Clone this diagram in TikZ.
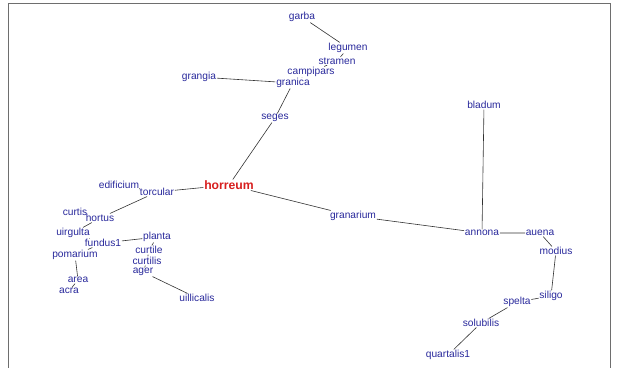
\documentclass[tikz,border=0pt]{standalone}
\usepackage{fontspec}
\setmainfont{Liberation Sans}
\definecolor{lbl}{RGB}{40,40,155}
\definecolor{hub}{RGB}{215,30,30}
\definecolor{edge}{RGB}{50,50,50}
\definecolor{framec}{RGB}{110,110,110}
\begin{document}
\begin{tikzpicture}[x=1pt,y=-1pt,
  w/.style={text=lbl,font=\fontsize{10.2}{11}\selectfont,inner sep=0.6pt},
  hubnode/.style={text=hub,font=\fontsize{12.2}{13}\selectfont\bfseries,inner sep=0.8pt},
  link/.style={draw=edge,line width=0.6pt}]
\useasboundingbox (0,0) rectangle (617,367);
\draw[framec,line width=1.8pt] (8.5,3.5) rectangle (610.5,380);
% nodes
\node[w] (garba) at (302,17) {garba};
\node[w] (legumen) at (348,48) {legumen};
\node[w] (stramen) at (337,61) {stramen};
\node[w] (campipars) at (311,72) {campipars};
\node[w] (grangia) at (199,77) {grangia};
\node[w] (granica) at (293,83) {granica};
\node[w] (seges) at (275,118) {seges};
\node[w] (bladum) at (484,105) {bladum};
\node[hubnode] (horreum) at (229,185) {horreum};
\node[w] (edificium) at (119,185) {edificium};
\node[w] (torcular) at (157,192) {torcular};
\node[w] (curtis) at (75,212) {curtis};
\node[w] (hortus) at (100,218) {hortus};
\node[w] (uirgulta) at (73,233) {uirgulta};
\node[w] (fundus) at (103,243) {fundus1};
\node[w] (planta) at (157,237) {planta};
\node[w] (curtile) at (149,250) {curtile};
\node[w] (curtilis) at (147,261) {curtilis};
\node[w] (ager) at (143,272) {ager};
\node[w] (pomarium) at (75,255) {pomarium};
\node[w] (area) at (78,280) {area};
\node[w] (acra) at (69,291) {acra};
\node[w] (uillicalis) at (197,298) {uillicalis};
\node[w] (granarium) at (353,216) {granarium};
\node[w] (annona) at (482,233) {annona};
\node[w] (auena) at (540,233) {auena};
\node[w] (modius) at (556,251) {modius};
\node[w] (siligo) at (551,296) {siligo};
\node[w] (spelta) at (517,302) {spelta};
\node[w] (solubilis) at (481,323) {solubilis};
\node[w] (quartalis) at (448,355) {quartalis1};
% edges
\path[link] (garba) -- (legumen)
  (legumen) -- (stramen)
  (stramen) -- (campipars)
  (campipars) -- (granica)
  (grangia) -- (granica)
  (granica) -- (seges)
  (seges) -- (horreum)
  (horreum) -- (torcular)
  (torcular) -- (edificium)
  (torcular) -- (hortus)
  (hortus) -- (uirgulta)
  (uirgulta) -- (fundus)
  (fundus) -- (pomarium)
  (fundus) -- (planta)
  (planta) -- (curtile)
  (curtile) -- (curtilis)
  (curtilis) -- (ager)
  (ager) -- (uillicalis)
  (pomarium) -- (area)
  (area) -- (acra)
  (horreum) -- (granarium)
  (granarium) -- (annona)
  (annona) -- (bladum)
  (annona) -- (auena)
  (auena) -- (modius)
  (modius) -- (siligo)
  (siligo) -- (spelta)
  (spelta) -- (solubilis)
  (solubilis) -- (quartalis);
\end{tikzpicture}
\end{document}
